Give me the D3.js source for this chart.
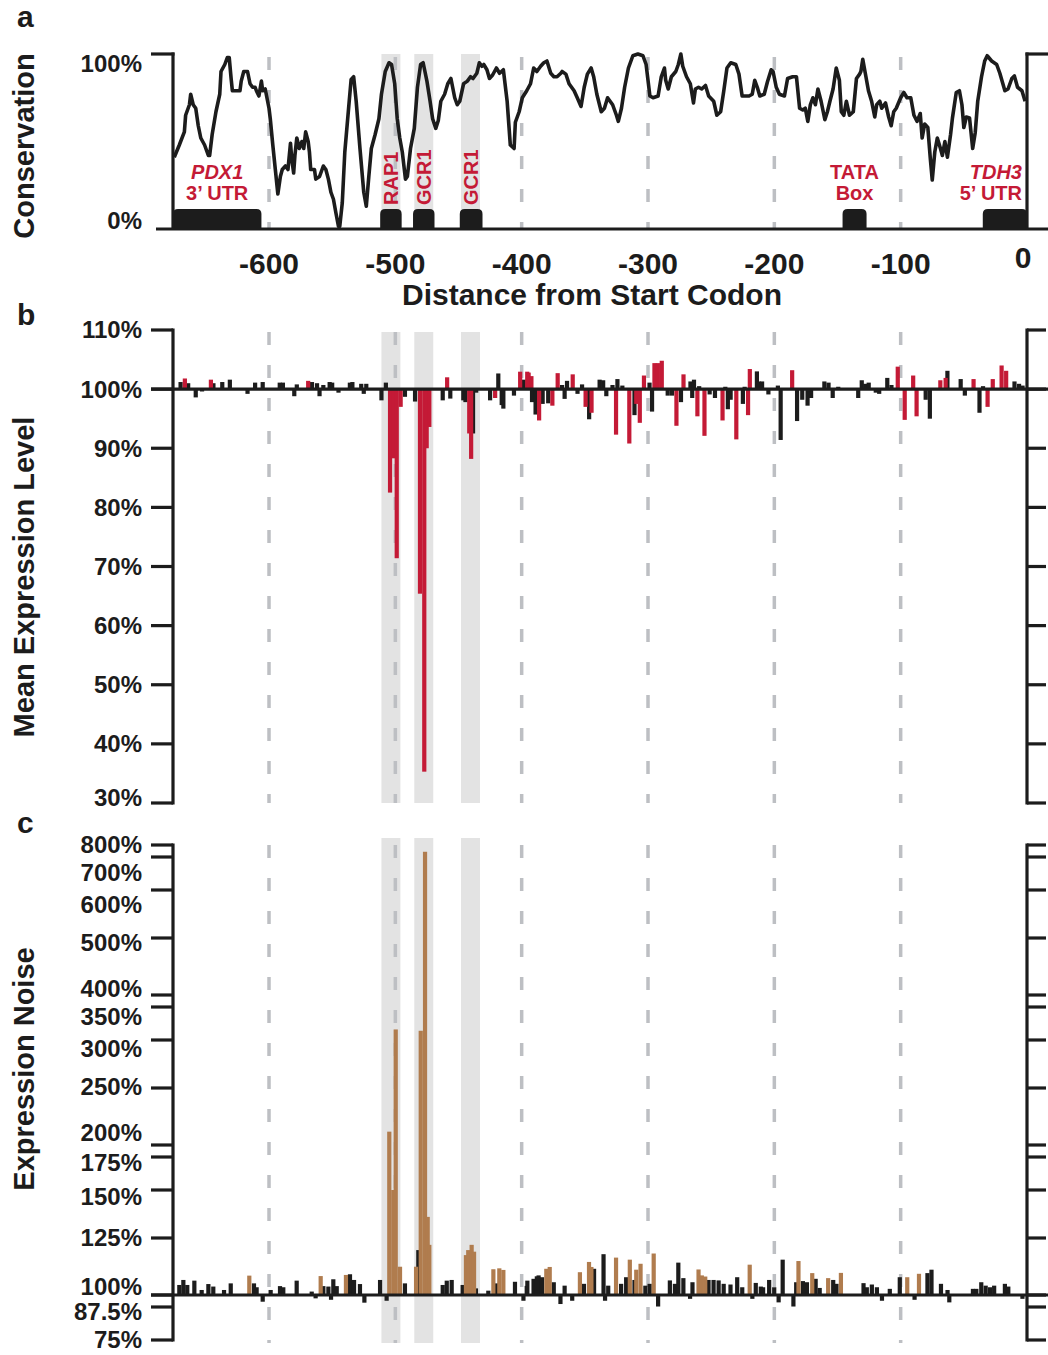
<!DOCTYPE html>
<html><head><meta charset="utf-8">
<script src="https://cdn.jsdelivr.net/npm/d3@7"></script>
<style>body{margin:0;background:#fff} text{font-family:"Liberation Sans",Arial,Helvetica,sans-serif}</style>
</head><body><svg id="chart" width="1048" height="1355"></svg>
<script>
// ---------- DATA ----------
const xTicks = [-600,-500,-400,-300,-200,-100,0];
const consTicks = [0,100];
const exprTicks = [30,40,50,60,70,80,90,100,110];
const noiseTicks = [75,87.5,100,125,150,175,200,250,300,350,400,500,600,700,800];

const consPos = [-675,-671,-667,-666,-663,-662,-660,-658,-656,-654,-651,-648,-647,-645,-642,-639,-638,-635,-633,-631.5,-630,-629,-626,-623,-622,-620,-617,-615,-613,-611,-610,-608,-606,-605,-603,-600,-599,-597,-595,-593,-591,-589.5,-587,-585,-583,-582,-580.5,-579.5,-578,-576,-574,-572.5,-571,-569,-568,-567,-564,-563,-560,-557,-555,-553,-551,-549,-547,-545,-544,-542,-540,-537,-535,-533,-531,-528,-525,-523,-521,-519,-516,-513,-511,-508,-505,-503,-500.5,-498.5,-496.5,-494.5,-492,-490.5,-488,-485,-482.5,-480,-478,-475,-472.5,-470.5,-468,-466,-464,-461,-458.5,-456,-453,-451,-449,-446,-443,-440.5,-438.5,-435.5,-433.5,-431.5,-430,-427.5,-425.5,-423,-420,-417.5,-414.5,-411.5,-409,-406,-405,-402,-399.5,-396,-393,-390.5,-388,-385,-382.5,-380,-377,-374.5,-372,-369,-368,-365,-362.5,-358.5,-356,-353,-350.5,-348,-345,-343,-340.5,-337,-334.5,-332,-330,-328,-325,-323.5,-321,-318.5,-315.5,-312,-308,-304,-301.5,-298.5,-296,-292,-289.5,-287,-286,-284,-281.5,-278,-276,-274,-272.5,-269.5,-266.5,-264,-262.5,-260,-257.5,-254.5,-252,-248,-245.5,-242.5,-240,-237.5,-234.5,-230.5,-228,-225.5,-222.5,-220,-217.5,-215.5,-213.5,-211.5,-208,-205.5,-202.5,-201,-198.5,-196,-192,-189.5,-185.5,-182.5,-180,-177.5,-175.5,-173.5,-171.5,-169.5,-167.5,-165.5,-163,-160,-158,-156,-153.5,-151,-148.5,-147,-145,-143,-140.5,-137.5,-135,-132.5,-131.5,-130,-128,-125.5,-123,-120.5,-119,-116.5,-115,-112,-109.5,-107.5,-105.5,-103.5,-100,-97.5,-95,-92,-89.5,-87,-84.5,-83,-81,-78.5,-76.5,-75,-73,-71,-68.5,-67,-65,-63,-60.5,-59,-56,-53.5,-51.5,-50,-48,-45.5,-43,-41,-39,-36,-33.5,-31.5,-28,-24,-21.5,-17.5,-15,-12,-10,-7.5,-4,-1.5];
const consVal = [41,48,55.5,65,71,77,71,69,59,52,48,42,42,54,67,77,90,94,98,98,86,79,79,79,84.5,90,90,83,81,81,79,76,84.5,79,80,69,63,48,34,20,30,34,36,34,49,40,32,42,52,46,50,46,55.5,50,44,34,34,28.5,30,36,34,28.5,21,17,9,1.5,1.5,15,44,69,85.5,87,73,46,21,13,30,46,54,63,77,90,95,94,83,63,52,44,28.5,30,46,57.5,81,94,95,84.5,73,63,57.5,62,73,77,83,86,75,71,73,83,84.5,87,86,89,95,93,94,91,86,88,92,89,91,73,48,46,61,67,75,79,83,92,90,93,95,96,89,87,87,89,90,88.5,83,79,75,70,81,88.5,92,87,77,67,69,75,73,71,65,61.5,69,81,92,99,100,99,94,76,75,76,87,92,85,80,87,90,94,100,93,87,83,72,80,81,80,82,76,73,65,67,79,92,95,94,88.5,76,76,76,77,85,81,76,77,84,91,90,81,77,76,86,87,87,69,68,69,61.5,71,75,71,80,73,62.5,67,73,80,92,85,67,65,73,65,67,86,88.5,90,97,89,79,73,64,71,73,69,72,64,59,67,69,75,78,75,75,65,61.5,66,52,60,58,40,28,44,52,46,42,50,41,54,63.5,78,79,71,58,64,63.5,46,55,73,87,96,99,96,94,89,79,80,86,87.5,81,79,73];

const siteStart = [-511,-485,-448];
const siteEnd = [-496,-470,-433];

const motifStart = [-676,-512,-486,-449,-146,-35];
const motifEnd = [-606,-495,-469,-431,-127,0];
const motifLine1 = ["PDX1","RAP1","GCR1","GCR1","TATA","TDH3"];
const motifLine2 = ["3\u2019 UTR","","","","Box","5\u2019 UTR"];

const exprPos = [-670,-666.6,-664,-658,-653,-646,-644,-637,-631,-617,-611,-605,-591.5,-589,-580,-578,-569,-566,-562,-560,-557,-552,-550,-545,-536,-534,-527,-525,-523,-511,-507.5,-504.2,-501.6,-498.9,-495.8,-492.4,-484.4,-480.5,-477.1,-475.2,-473.1,-462.5,-459,-456.5,-446.2,-444.5,-441.5,-440,-438.5,-436,-425,-421,-418.5,-415.8,-414.5,-406.1,-401.2,-398.4,-395.6,-394.5,-392.3,-391.8,-389,-386.2,-383.4,-379,-375.7,-371.5,-368,-366,-364.1,-359.6,-355.8,-352.2,-349.4,-346.6,-344.7,-338.3,-335.5,-333,-328.1,-325.3,-324.2,-320.3,-314.8,-310.7,-309.3,-306.5,-303.2,-298.8,-296.8,-294.9,-292.2,-289.1,-284.4,-281,-277.5,-273.9,-271.9,-266.4,-265,-263.6,-260.9,-259.5,-255.3,-251.2,-247,-241,-238.8,-236.8,-234.6,-230.1,-224.9,-223.5,-220.8,-219.4,-213.8,-212.4,-209.7,-204.7,-197.2,-195,-185.9,-182,-177.9,-173.7,-170.9,-166.8,-160.4,-157.1,-153.8,-149.4,-133.6,-130.8,-128,-125.3,-119.7,-117,-110.6,-107.3,-102.3,-96.8,-90.1,-87.4,-80.2,-76.9,-68.6,-64.4,-63,-52.5,-49.2,-42.3,-37.6,-34.8,-31.2,-27.1,-20.1,-16.5,-9.9,-6.3,-3.5];
const exprVal = [101.2,101.8,101.0,98.6,99.6,101.6,101.0,101.2,101.6,99.2,101.1,101.2,101.1,101.1,98.8,100.8,101.4,101.2,101.0,98.8,100.7,101.2,101.1,99.4,101.1,101.2,100.9,99.2,100.9,98.1,101.1,82.5,88.3,71.4,97.0,98.7,97.9,65.4,35.3,90.0,93.6,98.1,102.0,98.4,98.1,97.8,92.5,88.2,92.5,99.4,98.1,98.5,102.65,97.3,96.7,98.9,102.95,101.6,102.95,102.8,102.2,97.8,95.7,94.7,97.5,97.6,97.2,102.7,100.7,98.35,101.4,102.5,99.2,100.8,97.0,94.9,96.0,101.6,101.5,98.8,100.7,92.3,101.7,100.6,90.8,95.6,97.5,94.3,102.3,101.1,96.2,104.4,104.4,104.8,98.9,98.9,93.8,97.8,102.5,101.3,98.5,101.6,95.4,100.5,92.1,99.1,98.5,94.7,100.4,96.6,98.2,91.5,97.5,100.4,95.6,103.4,103.0,101.3,101.3,99.1,100.6,91.4,103.2,94.6,98.2,97.2,98.5,100.1,101.3,101.1,98.5,100.4,98.5,101.5,100.9,101.1,99.4,99.2,101.9,100.7,103.8,94.8,102.3,95.4,98.2,95.0,101.5,101.9,103.1,101.7,98.9,101.7,96.0,100.5,97.0,101.7,104.0,103.1,101.3,100.9,100.6];
const exprSig = [0,1,0,0,0,1,0,0,0,0,0,0,0,0,0,0,1,0,0,0,0,0,0,0,0,0,0,0,0,0,0,1,1,1,1,0,0,1,1,1,1,0,1,0,0,0,1,1,0,0,0,1,0,0,0,0,1,0,1,1,1,0,0,1,0,0,1,1,0,0,0,1,0,0,1,0,1,0,0,0,0,1,0,0,1,0,1,1,1,0,0,1,1,1,0,0,1,0,1,0,0,0,1,0,1,0,0,1,0,0,0,1,0,0,1,1,0,0,0,0,0,0,1,0,0,0,0,0,0,0,0,0,0,0,0,0,0,0,0,0,1,1,1,1,0,0,1,1,0,0,0,1,0,0,1,1,1,1,0,0,0];

const noisePos = [-671,-667.8,-664.7,-659.1,-653.3,-648,-644.1,-635.6,-630.3,-615.6,-611.9,-609.8,-605,-598.7,-591.3,-588.7,-578.1,-566.2,-563.1,-559.1,-557,-553,-550.9,-549.1,-546.4,-539.1,-535.9,-532.7,-528,-524.5,-512.1,-506.9,-504.8,-501.6,-499.7,-496.3,-492.4,-483.6,-481.8,-479.9,-476.5,-474.4,-473.1,-462.5,-459.3,-455.4,-446.7,-444.1,-442.3,-439.6,-437.7,-436.2,-426.4,-422.4,-419.8,-417.7,-414.5,-405.3,-398.6,-396,-395.5,-390.6,-388,-386.6,-383.9,-380.5,-377.8,-374.6,-369.3,-366,-360,-353.9,-350.7,-346.7,-344.8,-342.7,-335.2,-334,-331.5,-325.3,-321.3,-317.3,-314.4,-310.7,-309.3,-305.9,-302.1,-298.7,-295.5,-292,-282.7,-278.7,-276,-272,-266.7,-264.8,-260,-257.4,-254.7,-252.1,-248.1,-244.1,-240.1,-234.7,-229.4,-225.4,-219.5,-217.4,-214.7,-210.7,-208.9,-204.1,-200.1,-196.6,-193.4,-184.9,-182.7,-180.9,-177.4,-174.2,-170,-167.3,-164.1,-157.4,-153.4,-150.8,-147.3,-129.4,-126.8,-122.8,-118.8,-114.8,-108.6,-100.7,-94.8,-89,-85.5,-78.8,-75.6,-68.1,-62.9,-61.5,-50.8,-42.8,-40.1,-36.2,-32.7,-29.2,-26,-17.5,-14.8,-3.6];
const noiseVal = [104.4,106.6,104.4,106.3,102.2,104.8,103.7,102.2,105.1,108.5,105.1,103.4,93,102.2,103.9,103.4,106.3,101.5,96.5,108.3,103.9,103.7,95,106.9,103.9,108.8,109.1,106.6,104.8,92,106.6,94,211.7,150,316,112.4,105.1,112.4,119.7,314,743.6,136,122,104.4,106.3,106.6,104.4,117.5,119.7,122,119,102.9,101.9,111.3,105.1,111.7,111.0,105.8,94,104,106.3,107.1,108.2,108.6,107.8,111.5,112.3,105.6,90.6,104.1,94,110,104.9,114.5,112.3,111.5,117.9,94,104.1,116.4,104.9,107.8,115.5,106.6,111.1,113.7,104.1,104.9,118.2,88,106.4,104.9,114.2,107.4,96,105.6,111.2,108.6,108.1,106.6,106.6,106.4,104.9,104.6,107.8,103.4,113.3,96,105.3,103.7,103.4,106.6,103.4,92.3,115.5,88,105.6,114.9,106.1,105.6,109.6,107.1,103.1,107.4,106.6,104.9,109.7,105.2,103.4,104.6,103.4,94,102.7,107.8,107.8,95,109.3,109.6,111.1,104.9,102.2,92.3,100.4,102.7,102.7,105.6,104.1,103.4,104.1,104.9,103.7,96];
const noiseSig = [0,0,0,0,0,0,0,0,0,1,0,0,0,0,0,0,0,0,0,1,0,0,0,0,0,1,0,0,0,0,0,0,1,1,1,1,0,1,0,1,1,1,1,0,0,0,0,1,1,1,1,0,0,1,0,1,1,0,0,0,0,0,0,0,0,1,1,0,0,0,0,1,0,1,1,0,0,0,0,1,0,0,1,0,1,1,0,0,1,0,0,0,0,0,0,0,1,1,1,0,0,0,0,0,0,0,1,0,0,0,0,0,0,0,0,0,0,1,0,0,1,0,0,1,0,0,1,0,0,0,0,0,0,0,1,0,1,0,0,0,0,0,0,0,0,0,0,0,0,0,0,0];

// ---------- STYLE ----------
const INK = "#1c1c1c", RED = "#c41a36", BROWN = "#b07c4e", BAND = "#e3e3e3", DASH = "#bdbfc3";
const AXW = 3.2, BARW = 4.2;

// ---------- SCALES ----------
const svg = d3.select("#chart");
const x = d3.scaleLinear().domain([-676,0]).range([173,1027]);
const yA = d3.scaleLinear().domain([0,100]).range([229,54]);
const yB = d3.scaleLinear().domain([30,110]).range([803,330]);
const warp = d3.scaleLinear().domain([1,1.25,1.5,1.75,2]).range([0,0.38,0.70,0.92,1]);
function octaves(v){ const o = Math.floor(Math.log2(v/100)+1e-9); return o + warp(v/100/Math.pow(2,o)); }
const yCo = d3.scaleLinear().domain([octaves(75), octaves(800)]).range([1340,845]);
const yC = v => yCo(octaves(v));
const yCLabel = d3.scaleLog().domain([75,100,200,800]).range([1340,1287,1133,845]);

const panels = [
  {top: yA(100), bottom: yA(0), bandTop: 54, dashTop: 57},
  {top: yB(110), bottom: yB(30), bandTop: 332, dashTop: 332},
  {top: yC(800), bottom: yC(75), bandTop: 838, dashTop: 845, bandBottom: 1343, dashBottom: 1343}
];

// bands + dashed lines
panels.forEach(p => {
  const bb = p.bandBottom || p.bottom;
  svg.append("g").selectAll("rect").data(siteStart.map((s,i)=>[s,siteEnd[i]])).join("rect")
    .attr("x", d=>x(d[0])).attr("width", d=>x(d[1])-x(d[0]))
    .attr("y", p.bandTop).attr("height", bb - p.bandTop).attr("fill", BAND);
  svg.append("g").selectAll("line").data(xTicks.filter(t=>t!==0)).join("line")
    .attr("x1", d=>x(d)).attr("x2", d=>x(d)).attr("y1", p.dashTop).attr("y2", p.dashBottom || p.bottom)
    .attr("stroke", DASH).attr("stroke-width", 3.5).attr("stroke-dasharray", "13,20");
});

function line(x1,y1,x2,y2,w){ svg.append("line").attr("x1",x1).attr("y1",y1).attr("x2",x2).attr("y2",y2).attr("stroke",INK).attr("stroke-width",w||AXW); }

// ---------- PANEL A ----------
const consData = consPos.map((p,i)=>[p,consVal[i]]);
svg.append("path").datum(consData)
  .attr("d", d3.line().x(d=>x(d[0])).y(d=>yA(d[1])))
  .attr("fill","none").attr("stroke",INK).attr("stroke-width",3.6).attr("stroke-linejoin","round");

// motif boxes (rounded top corners)
const boxTop = 209, r = 5;
const motifs = motifStart.map((s,i)=>({s, e:motifEnd[i], l1:motifLine1[i], l2:motifLine2[i], i}));
svg.append("g").selectAll("path").data(motifs).join("path")
  .attr("d", d=>{ const x0=x(d.s), x1=x(d.e), yb=yA(0);
    return `M${x0},${yb}V${boxTop+r}Q${x0},${boxTop} ${x0+r},${boxTop}H${x1-r}Q${x1},${boxTop} ${x1},${boxTop+r}V${yb}Z`; })
  .attr("fill", INK);

// motif labels
motifs.forEach(d=>{
  const cx = (x(d.s)+x(d.e))/2;
  if (d.l2 === "") {
    svg.append("text").attr("transform",`translate(${cx+7},${boxTop-4}) rotate(-90)`)
      .attr("font-size",20).attr("font-weight","bold").attr("fill",RED).text(d.l1);
  } else {
    const italic = (d.l1==="PDX1"||d.l1==="TDH3");
    let ax = cx, anchor = "middle";
    if (d.l1==="TDH3") { ax = x(d.e)-5; anchor="end"; }
    svg.append("text").attr("x",ax).attr("y",179).attr("text-anchor",anchor)
      .attr("font-size",20).attr("font-weight","bold").attr("font-style",italic?"italic":"normal")
      .attr("fill",RED).text(d.l1);
    svg.append("text").attr("x",ax).attr("y",200).attr("text-anchor",anchor)
      .attr("font-size",20).attr("font-weight","bold").attr("fill",RED).text(d.l2);
  }
});

// axes A
line(173, yA(100)-1.5, 173, yA(0));
line(151, yA(100), 174.5, yA(100));
line(156, yA(0), 1048, yA(0));
line(1027, yA(100)-1.5, 1027, yA(0));
line(1025.5, yA(100), 1048, yA(100));
svg.append("g").selectAll("text").data(consTicks).join("text")
  .attr("x",142).attr("y",d=>yA(d) + (d===100? 10 : -8)).attr("dy","0.35em")
  .attr("text-anchor","end").attr("font-size",24).attr("font-weight","bold").attr("fill",INK)
  .text(d=>d+"%");
svg.append("g").selectAll("text").data(xTicks).join("text")
  .attr("x",d=>x(d) - (d===0?4:0)).attr("y",d=> d===0 ? 268 : 274).attr("text-anchor","middle")
  .attr("font-size",30).attr("font-weight","bold").attr("fill",INK).text(d=>d);
svg.append("text").attr("x",592).attr("y",305).attr("text-anchor","middle")
  .attr("font-size",30).attr("font-weight","bold").attr("fill",INK).text("Distance from Start Codon");

// ---------- PANEL B ----------
const exprData = exprPos.map((p,i)=>({p, v:exprVal[i], s:exprSig[i]})).sort((a,b)=>a.s-b.s);
svg.append("g").selectAll("rect").data(exprData).join("rect")
  .attr("x", d=>x(d.p)-BARW/2).attr("width",BARW)
  .attr("y", d=>Math.min(yB(d.v), yB(100))).attr("height", d=>Math.abs(yB(d.v)-yB(100)))
  .attr("fill", d=>d.s?RED:INK);
line(173, yB(110)-1.5, 173, yB(30)+1.5);
line(1027, yB(110)-1.5, 1027, yB(30)+1.5);
svg.append("g").selectAll("line").data(exprTicks).join("line")
  .attr("x1",151).attr("x2",173).attr("y1",d=>yB(d)).attr("y2",d=>yB(d)).attr("stroke",INK).attr("stroke-width",AXW);
svg.append("g").selectAll("line").data(exprTicks).join("line")
  .attr("x1",1027).attr("x2",1046).attr("y1",d=>yB(d)).attr("y2",d=>yB(d)).attr("stroke",INK).attr("stroke-width",AXW);
line(151, yB(100), 1048, yB(100));
svg.append("g").selectAll("text").data(exprTicks).join("text")
  .attr("x",142).attr("y",d=>yB(d) + (d===30? -5 : 0)).attr("dy","0.35em")
  .attr("text-anchor","end").attr("font-size",24).attr("font-weight","bold").attr("fill",INK)
  .text(d=>d+"%");

// ---------- PANEL C ----------
const noiseData = noisePos.map((p,i)=>({p, v:noiseVal[i], s:noiseSig[i]})).sort((a,b)=>a.s-b.s);
svg.append("g").selectAll("rect").data(noiseData).join("rect")
  .attr("x", d=>x(d.p)-BARW/2).attr("width",BARW)
  .attr("y", d=>Math.min(yC(d.v), yC(100))).attr("height", d=>Math.abs(yC(d.v)-yC(100)))
  .attr("fill", d=>d.s?BROWN:INK);
line(173, yC(800)-1.5, 173, yC(75)+1.5);
line(1027, yC(800)-1.5, 1027, yC(75)+1.5);
svg.append("g").selectAll("line").data(noiseTicks).join("line")
  .attr("x1",151).attr("x2",173).attr("y1",d=>yC(d)).attr("y2",d=>yC(d)).attr("stroke",INK).attr("stroke-width",AXW);
svg.append("g").selectAll("line").data(noiseTicks).join("line")
  .attr("x1",1027).attr("x2",1046).attr("y1",d=>yC(d)).attr("y2",d=>yC(d)).attr("stroke",INK).attr("stroke-width",AXW);
line(151, yC(100), 1048, yC(100));
svg.append("g").selectAll("text").data(noiseTicks).join("text")
  .attr("x",142).attr("y",d=>yCLabel(d)).attr("dy","0.35em")
  .attr("text-anchor","end").attr("font-size",24).attr("font-weight","bold").attr("fill",INK)
  .text(d=>d+"%");

// ---------- TITLES & PANEL LETTERS ----------
[["Conservation",146],["Mean Expression Level",577],["Expression Noise",1069]].forEach(([t,cy])=>{
  svg.append("text").attr("transform",`translate(33.5,${cy}) rotate(-90)`).attr("text-anchor","middle")
    .attr("font-size",29).attr("font-weight","bold").attr("fill",INK).text(t);
});
[["a",27],["b",325],["c",833]].forEach(([t,yy])=>{
  svg.append("text").attr("x",17).attr("y",yy).attr("font-size",30).attr("font-weight","bold").attr("fill",INK).text(t);
});
</script></body></html>
